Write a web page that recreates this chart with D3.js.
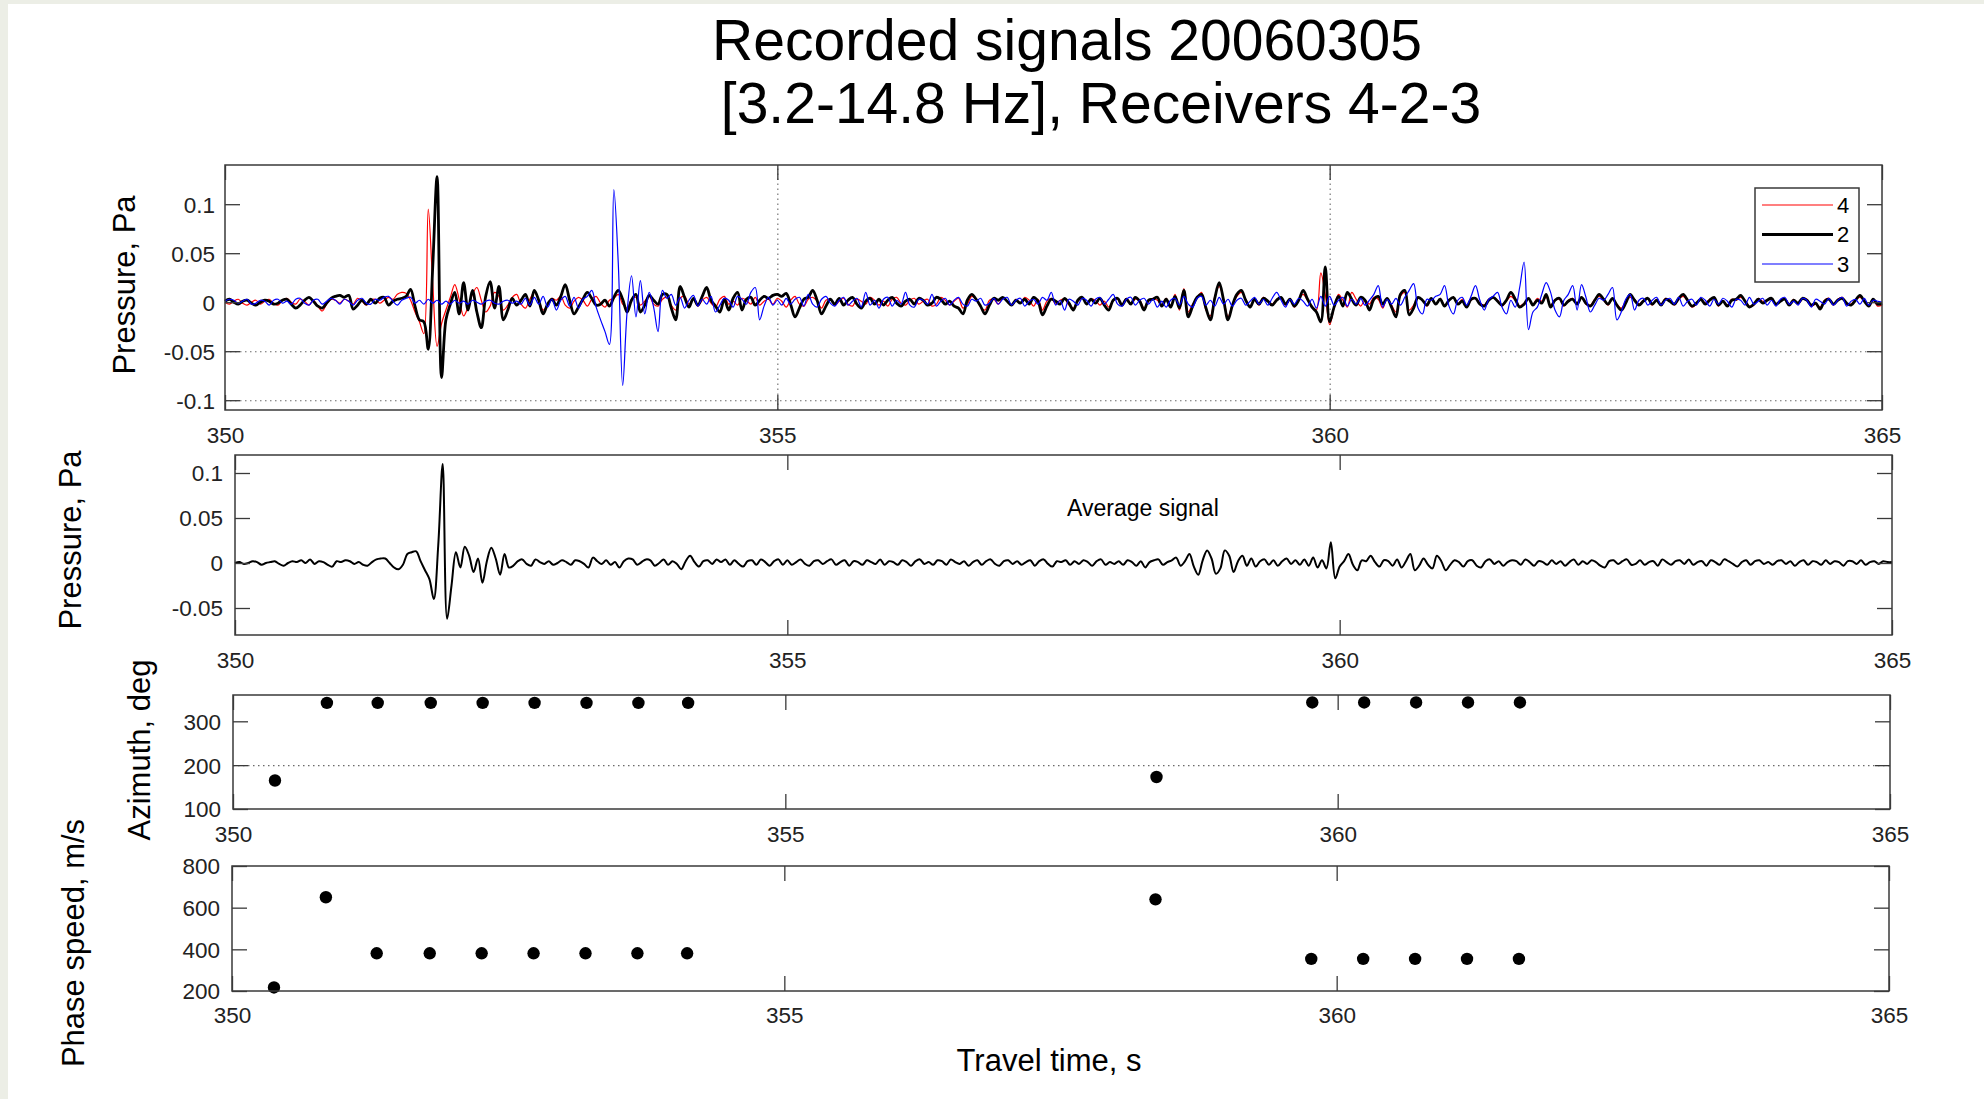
<!DOCTYPE html>
<html><head><meta charset="utf-8">
<script src="https://cdn.jsdelivr.net/npm/d3@7"></script>
<style>
html,body{margin:0;padding:0;background:#fff;}
svg{display:block;}
text{font-family:"Liberation Sans",Arial,Helvetica,sans-serif;}
</style></head><body>
<svg id="chart" width="1984" height="1099"></svg>
<script>
// ---------------- DATA ----------------
const T0 = 350, DT = 0.04;
const rec4 = [ // receiver 4 (red)
0,-2,1,3,-1,-3,0,2,-2,1,3,-1,-3,2,4,0,-2,3,1,-3,2,-4,-9,-2,3,
2,-1,3,1,-2,4,1,-3,2,3,-1,2,5,3,8,10,9,2,-10,-20,-32,95,20,-45,-22,
-8,5,18,3,-14,-5,8,15,2,-10,-4,10,6,-8,-3,5,8,-2,-6,3,10,2,-8,-3,4,
2,6,-3,-6,1,5,2,-4,3,6,-1,-5,2,4,8,-2,-6,3,5,-3,1,6,-2,-4,3,
5,-3,-8,4,6,-2,3,-4,2,5,-1,-5,3,6,-2,1,-3,4,2,-2,5,-3,1,3,-2,
4,1,-5,2,6,-2,-4,3,5,1,-6,2,3,-3,1,4,-2,-4,3,1,-2,5,2,-3,1,
-4,3,5,-1,-3,2,4,-2,1,3,-4,-2,5,2,-3,1,4,-6,-2,6,3,-5,-8,2,3,
-2,4,1,-3,3,-1,5,2,-4,3,-8,1,4,-2,2,3,-3,-6,1,4,-1,3,2,-3,1,
-5,2,3,-2,4,-1,3,2,-6,1,4,2,-3,4,-4,8,-8,14,-10,-2,4,10,-8,-14,6,
16,3,-15,-2,6,10,3,-4,2,-3,5,1,-2,3,4,-3,2,-5,3,8,2,-4,-8,30,8,
-23,-6,8,2,-5,10,3,-4,2,-2,5,3,-6,4,-3,-10,6,10,-8,-3,4,2,-4,3,-2,
4,-3,2,5,-2,3,-4,2,4,-1,-3,3,5,2,-4,1,6,2,-4,-1,3,-2,4,1,5,
-3,2,3,-4,2,4,-1,5,-2,-3,3,6,2,-3,3,-2,-6,1,5,3,-2,2,4,-3,3,
-2,4,2,-3,3,6,1,-5,-2,3,-1,3,4,-4,2,-3,3,2,5,2,-4,-3,4,1,2,
3,-3,2,4,-2,3,-2,3,3,-4,-2,-5,2,4,-3,3,5,-2,-2,3,5,2,-3,2,-4,
-3];
const rec2 = [ // receiver 2 (black)
1,3,0,-2,1,2,-1,-3,0,2,1,-2,-1,2,3,-2,-6,-3,2,5,1,-4,-6,-1,4,
6,7,5,7,-7,-3,2,-2,3,-1,4,5,-3,1,3,4,6,13,-4,-18,-20,-48,35,128,-77,
-18,-2,10,-12,20,-8,12,-10,-26,6,21,-6,16,-18,-8,4,-3,2,8,-4,12,2,-12,-2,3,
-3,6,18,2,-12,-5,3,10,4,-3,-2,2,-4,5,12,3,-10,2,8,-10,-3,7,2,-2,8,
8,-6,-18,16,5,-5,4,-3,6,15,2,-4,-10,3,-8,4,10,-8,3,5,-3,2,6,4,7,
8,6,9,-2,-15,-6,3,5,12,2,-12,-4,3,-2,4,-3,2,5,-2,-6,1,4,-2,3,-3,
2,5,-1,-4,1,3,-2,4,2,-3,-1,5,3,-2,1,-4,-6,-12,2,8,3,-4,-12,-3,4,
2,5,1,-3,2,-1,3,-2,5,1,-13,-4,3,1,-2,4,-1,-8,2,5,-2,3,-1,4,-3,
-8,2,4,-3,3,-2,5,1,-8,2,3,5,-4,3,-5,6,-6,12,-15,-4,5,8,-6,-18,4,
20,2,-18,-3,8,12,2,-5,3,-2,4,1,-3,2,5,-2,3,-4,2,12,3,-5,-10,-20,36,
-20,-5,6,-4,10,3,-3,5,2,-8,3,6,-2,4,-5,-15,8,12,-13,-6,5,2,-3,4,-2,
3,-4,2,5,-2,1,-5,3,4,-2,-4,2,5,1,-3,2,10,3,-5,-2,4,-3,2,-1,8,
-5,2,4,-3,1,3,-2,5,-1,-4,2,8,3,-2,4,-3,-8,-1,8,2,-3,1,4,-2,2,
-3,3,1,-2,4,8,2,-4,-1,3,-2,2,5,-3,1,-4,2,3,7,1,-5,-2,3,-1,2,
4,-2,1,3,-3,2,-1,4,2,-3,-1,-7,1,3,-2,2,4,-1,-3,2,7,1,-4,3,-2,
-1];
const rec3 = [ // receiver 3 (blue)
1,3,2,-1,1,3,-2,-1,2,1,-3,2,3,-1,1,-2,3,4,-1,-3,2,3,-2,1,4,
2,-2,3,1,-3,2,4,-1,-2,3,2,5,6,1,-3,2,4,5,-1,2,-2,3,-1,2,-2,
1,-2,2,-1,1,-2,2,0,-2,1,2,-1,-2,1,2,-1,1,-2,4,-3,5,-2,6,-5,3,
-8,2,6,-4,5,-6,3,6,12,-5,-18,-30,-43,115,40,-85,-10,27,-15,22,-12,10,-5,-30,12,
4,8,-3,5,-6,2,7,-4,3,-2,6,-10,-3,4,2,-5,6,3,-2,10,15,-18,-4,5,-3,
2,-3,4,-2,3,5,-4,8,-2,-5,3,6,-1,-4,2,5,-3,1,4,-5,10,-3,2,-6,3,
5,-4,2,-2,10,-3,-5,3,2,-2,8,-4,1,4,-3,2,5,-2,-4,3,1,4,-3,-1,4,
-2,3,5,-3,2,4,-4,1,3,-2,5,2,10,-3,2,-8,3,1,-3,4,2,-4,3,5,-2,
3,8,-2,-4,3,5,-3,2,4,-2,3,-5,1,-5,2,4,-3,6,-2,-5,4,6,-3,2,-4,
5,-2,3,-4,2,4,-3,1,5,-2,3,-3,4,10,2,-5,3,-2,4,1,-4,3,-6,6,-4,
6,-3,2,5,-4,3,-2,4,-3,2,8,17,-5,3,-2,4,-3,5,12,19,-6,-12,3,2,6,
8,17,-4,-12,2,5,-3,6,17,2,-8,3,6,10,-5,-12,2,-5,15,41,-28,-10,-5,8,20,
10,-8,-15,2,8,17,-8,18,5,-10,-3,4,2,8,15,-18,-10,3,8,-8,2,4,-3,2,5,
-3,2,4,-2,5,-4,1,3,-3,5,2,-4,3,-2,4,1,-5,3,2,-3,5,-2,1,4,-3,
2,-4,3,5,-2,1,-3,4,2,-5,3,1,-2,4,-3,2,5,-4,1,3,-2,4,-3,2,1,
0];
const avgSig = [ // average signal (black, panel 2)
0,1,-1,0,2,1,-2,0,1,2,-1,-3,0,2,1,3,0,4,-1,2,1,-2,-4,2,1,
3,2,-1,1,-2,-3,1,4,5,5,0,-5,-7,-2,10,12,13,2,-8,-18,-40,20,110,-62,-25,
12,-5,18,8,-10,5,-22,2,17,5,-13,10,-5,-3,2,4,-1,-3,4,1,-1,2,-2,0,3,
1,-2,3,2,-1,-5,6,2,-1,3,-2,1,-5,2,5,4,-2,1,4,3,-3,0,4,-2,2,
-1,-7,2,8,1,-4,2,3,-1,4,1,4,-2,3,-1,-4,2,3,-2,4,1,-3,2,4,-2,
3,-2,1,4,-1,-3,2,3,-1,2,4,-2,1,3,-3,2,1,-2,3,1,-1,4,-2,2,1,
-2,3,1,-3,2,4,-1,1,-2,3,2,-2,4,1,-1,2,-3,1,3,-2,2,4,-1,-3,2,
3,-1,2,-2,1,3,-3,2,4,-1,-4,2,1,3,-2,2,-1,3,1,-3,2,4,-2,1,-1,
2,-2,3,1,-3,2,-5,1,3,4,-2,1,3,6,-3,2,10,-4,-13,3,14,5,-12,-6,14,
8,-10,2,8,-3,5,-4,2,4,-2,3,-3,2,5,-1,3,-2,4,-3,6,-5,3,-6,23,-17,
-4,2,10,-2,-8,3,2,8,1,-4,3,2,-3,4,-5,2,10,-8,-3,5,-2,-6,8,2,-8,
-2,3,1,-4,2,3,-3,-5,2,4,-1,2,-3,1,3,2,-2,4,1,-3,2,1,-2,3,-1,
2,-3,1,4,-2,2,-1,3,1,-3,-5,2,3,-1,2,4,-2,-1,3,-2,1,2,-3,4,1,
-2,2,3,-1,4,-2,1,2,-3,3,1,-2,4,2,-1,-4,1,3,-2,2,3,-1,1,-2,2,
3,-1,2,-3,1,3,-2,2,1,-2,3,-1,2,1,-3,2,2,-1,3,-2,1,2,-1,2,1,
1];
// Estimation times (s), azimuth (deg) and phase speed (m/s)
const estTime = [350.38,350.85,351.31,351.79,352.26,352.73,353.20,353.67,354.12,358.36,359.77,360.24,360.71,361.18,361.65];
const azimuth = [165,342,342,342,342,342,342,342,342,173,343,343,343,343,343];
const phaseSpeed = [217,650,381,381,381,381,381,381,381,640,354,354,354,354,354];
// Axes
const xDomain = [350,365];
const xTicks = [350,355,360,365];
const p1YTicks = [-0.1,-0.05,0,0.05,0.1];
const p1YLabels = ["-0.1","-0.05","0","0.05","0.1"];
const p2YTicks = [-0.05,0,0.05,0.1];
const p2YLabels = ["-0.05","0","0.05","0.1"];
const azTicks = [100,200,300];
const spTicks = [200,400,600,800];
const legendNames = ["4","2","3"];
const titleLines = ["Recorded signals 20060305","[3.2-14.8 Hz], Receivers 4-2-3"];

// ---------------- DRAW ----------------
const svg = d3.select("#chart");
svg.append("rect").attr("width",1984).attr("height",1099).attr("fill","#fff");
svg.append("rect").attr("x",0).attr("y",0).attr("width",1984).attr("height",4).attr("fill","#eceee6");
svg.append("rect").attr("x",0).attr("y",0).attr("width",8).attr("height",1099).attr("fill","#eceee6");

const FRAME = "#3a3a3a";
function styleAxis(s, fontSize) {
  s.select(".domain").remove();
  s.selectAll(".tick line").attr("stroke", FRAME).attr("stroke-width", 1.3);
  s.attr("font-family", null).attr("font-size", fontSize);
  s.selectAll("text").attr("fill", "#222").style("font-family", '"Liberation Sans",Arial,sans-serif');
}

function makePanel(o) {
  const x = d3.scaleLinear().domain(xDomain).range([o.left, o.right]);
  const y = d3.scaleLinear().domain(o.yDomain).range([o.bottom, o.top]);
  const w = o.right - o.left, h = o.bottom - o.top;
  const g = svg.append("g");
  const gridG = g.append("g");
  if (o.yGrid) {
    gridG.append("g").attr("transform", `translate(${o.left},0)`)
      .call(d3.axisLeft(y).tickValues(o.yGrid).tickSize(-w).tickFormat(""))
      .call(s => { s.select(".domain").remove();
        s.selectAll("line").attr("stroke", "#6a6a6a").attr("stroke-width", 1.1).attr("stroke-dasharray", "1.5,3.5"); });
  }
  if (o.xGrid) {
    gridG.append("g").attr("transform", `translate(0,${o.bottom})`)
      .call(d3.axisBottom(x).tickValues(o.xGrid).tickSize(-h).tickFormat(""))
      .call(s => { s.select(".domain").remove();
        s.selectAll("line").attr("stroke", "#6a6a6a").attr("stroke-width", 1.1).attr("stroke-dasharray", "1.5,3.5"); });
  }
  const dataG = g.append("g");
  const axG = g.append("g");
  axG.append("rect").attr("x", o.left).attr("y", o.top).attr("width", w).attr("height", h)
    .attr("fill", "none").attr("stroke", FRAME).attr("stroke-width", 1.5);
  axG.append("g").attr("transform", `translate(${o.left},0)`)
    .call(d3.axisLeft(y).tickValues(o.yTicks).tickFormat((d, i) => o.yLabels[i]).tickSizeInner(-15).tickSizeOuter(0).tickPadding(o.yPad))
    .call(s => { styleAxis(s, 22.5); s.selectAll("text").attr("dy", "0.35em"); });
  axG.append("g").attr("transform", `translate(${o.right},0)`)
    .call(d3.axisRight(y).tickValues(o.yTicks).tickFormat("").tickSizeInner(-15).tickSizeOuter(0))
    .call(s => styleAxis(s, 22.5));
  axG.append("g").attr("transform", `translate(0,${o.top})`)
    .call(d3.axisTop(x).tickValues(xTicks).tickFormat("").tickSizeInner(-15).tickSizeOuter(0))
    .call(s => styleAxis(s, 22.5));
  axG.append("g").attr("transform", `translate(0,${o.bottom})`)
    .call(d3.axisBottom(x).tickValues(xTicks).tickFormat(d3.format("d")).tickSizeInner(-15).tickSizeOuter(0))
    .call(s => { styleAxis(s, 22.5); s.selectAll("text").attr("y", o.xLabOff).attr("dy", "0.35em"); });
  // y label
  svg.append("text").attr("transform", `translate(${o.ylx},${o.yly}) rotate(-90)`)
    .attr("text-anchor", "middle").attr("dominant-baseline", "central")
    .attr("font-size", 31).attr("fill", "#000").text(o.yTitle);
  return { x, y, dataG };
}

// Title
svg.append("text").attr("x", 1067).attr("y", 60).attr("text-anchor", "middle").attr("font-size", 57).attr("fill", "#000").text(titleLines[0]);
svg.append("text").attr("x", 1101).attr("y", 123).attr("text-anchor", "middle").attr("font-size", 57).attr("fill", "#000").text(titleLines[1]);

// Panel 1: three receivers
const p1 = makePanel({ left: 225, right: 1882, top: 165, bottom: 410, yDomain: [-0.11, 0.14],
  yTicks: p1YTicks, yLabels: p1YLabels, yPad: 10, yGrid: [-0.1, -0.05], xGrid: [355, 360],
  xLabOff: 25, ylx: 124, yly: 285, yTitle: "Pressure, Pa" });
const trace = (sc) => d3.line().x((d, i) => sc.x(T0 + i * DT)).y(d => sc.y(d / 1000)).curve(d3.curveCatmullRom.alpha(0.5));
const series = [
  { name: legendNames[0], vals: rec4, color: "#ff0000", width: 1.2 },
  { name: legendNames[1], vals: rec2, color: "#000000", width: 2.8 },
  { name: legendNames[2], vals: rec3, color: "#0000ff", width: 1.2 }
];
series.forEach(s => {
  p1.dataG.append("path").attr("d", trace(p1)(s.vals)).attr("fill", "none")
    .attr("stroke", s.color).attr("stroke-width", s.width).attr("stroke-linejoin", "round");
});
// Legend
const lg = svg.append("g");
lg.append("rect").attr("x", 1755).attr("y", 188).attr("width", 104).attr("height", 94)
  .attr("fill", "#fff").attr("stroke", FRAME).attr("stroke-width", 1.5);
series.forEach((s, i) => {
  const yy = 205 + i * 29.5;
  lg.append("line").attr("x1", 1762).attr("x2", 1833).attr("y1", yy).attr("y2", yy)
    .attr("stroke", s.color).attr("stroke-width", s.width);
  lg.append("text").attr("x", 1837).attr("y", yy).attr("dominant-baseline", "central")
    .attr("font-size", 22).attr("fill", "#000").text(s.name);
});

// Panel 2: average
const p2 = makePanel({ left: 235, right: 1892, top: 455, bottom: 635, yDomain: [-0.08, 0.12],
  yTicks: p2YTicks, yLabels: p2YLabels, yPad: 12, xLabOff: 25, ylx: 70, yly: 540, yTitle: "Pressure, Pa" });
p2.dataG.append("path").attr("d", trace(p2)(avgSig)).attr("fill", "none")
  .attr("stroke", "#000").attr("stroke-width", 2).attr("stroke-linejoin", "round");
svg.append("text").attr("x", 1067).attr("y", 516).attr("font-size", 23).attr("fill", "#000").text("Average signal");

// Panel 3: azimuth
const p3 = makePanel({ left: 233, right: 1890, top: 695, bottom: 809, yDomain: [100, 360],
  yTicks: azTicks, yLabels: azTicks.map(String), yPad: 12, yGrid: [200], xLabOff: 25, ylx: 139, yly: 750, yTitle: "Azimuth, deg" });
p3.dataG.selectAll("circle").data(estTime).join("circle")
  .attr("cx", d => p3.x(d)).attr("cy", (d, i) => p3.y(azimuth[i])).attr("r", 6.2).attr("fill", "#000");

// Panel 4: phase speed
const p4 = makePanel({ left: 232, right: 1889, top: 866, bottom: 991, yDomain: [200, 800],
  yTicks: spTicks, yLabels: spTicks.map(String), yPad: 12, xLabOff: 24, ylx: 73, yly: 943, yTitle: "Phase speed, m/s" });
p4.dataG.selectAll("circle").data(estTime).join("circle")
  .attr("cx", d => p4.x(d)).attr("cy", (d, i) => p4.y(phaseSpeed[i])).attr("r", 6.2).attr("fill", "#000");

svg.append("text").attr("x", 1049).attr("y", 1060).attr("text-anchor", "middle").attr("dominant-baseline", "central")
  .attr("font-size", 31).attr("fill", "#000").text("Travel time, s");
</script></body></html>
